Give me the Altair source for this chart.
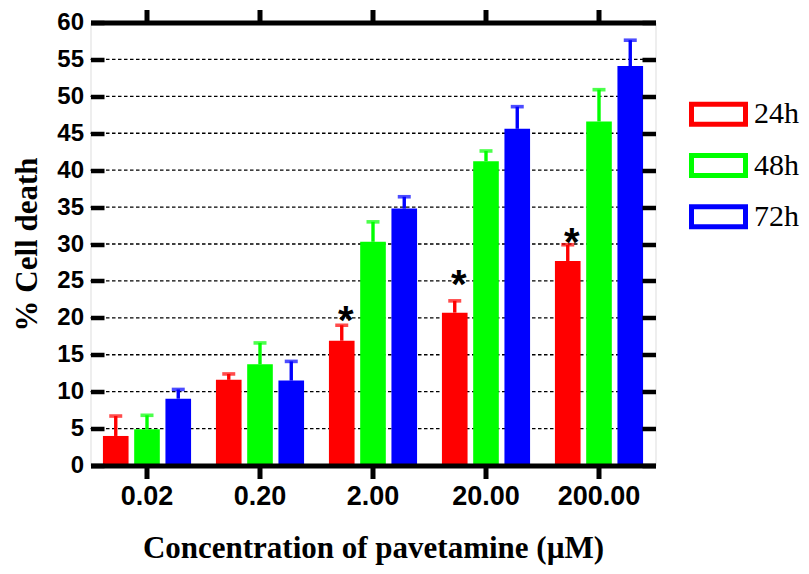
import altair as alt
import pandas as pd

# ---- data ----
concentrations = ["0.02", "0.20", "2.00", "20.00", "200.00"]
times = ["24h", "48h", "72h"]
mean_24h = [4.0, 11.6, 16.9, 20.7, 27.7]
err_24h = [2.7, 0.8, 2.1, 1.6, 2.2]
mean_48h = [4.9, 13.7, 30.3, 41.2, 46.6]
err_48h = [1.9, 2.9, 2.7, 1.4, 4.3]
mean_72h = [9.05, 11.5, 34.8, 45.6, 54.1]
err_72h = [1.25, 2.6, 1.6, 3.0, 3.5]
star_conc = ["2.00", "20.00", "200.00"]
star_time = ["24h", "24h", "24h"]
star_y = [20.8, 25.6, 31.4]
y_ticks = list(range(0, 65, 5))
colors = ["#ff0000", "#00ff00", "#0000ff"]

rows = []
for t, m, e in zip(times, [mean_24h, mean_48h, mean_72h], [err_24h, err_48h, err_72h]):
    for c, mv, ev in zip(concentrations, m, e):
        rows.append({"conc": c, "time": t, "mean": mv, "upper": mv + ev})
df = pd.DataFrame(rows)
stars = pd.DataFrame({"conc": star_conc, "time": star_time, "y": star_y, "s": ["*"] * 3})
grid = pd.DataFrame({"g": y_ticks[1:-1]})

yscale = alt.Scale(domain=[0, 60], nice=False, zero=True)
xscale = alt.Scale(domain=concentrations, paddingInner=0.22, paddingOuter=0.11)
oscale = alt.Scale(domain=times, paddingInner=0.18, paddingOuter=0)
# fill colours: domain taken from the data (keeps it apart from the legend's stroke scale)
cscale = alt.Scale(range=colors)

X_noaxis = alt.X("conc:N", scale=xscale, axis=None)
XO = alt.XOffset("time:N", scale=oscale)
C_noleg = alt.Color("time:N", sort=times, scale=cscale, legend=None)

# gridlines + right axis
grid_layer = alt.Chart(grid).mark_rule(
    color="black", strokeWidth=1.4, strokeDash=[3.5, 2.5]
).encode(
    y=alt.Y("g:Q", scale=yscale, axis=alt.Axis(
        orient="right", values=y_ticks, offset=-13.5, tickSize=13.5, tickWidth=4.5,
        tickColor="black", labels=False, domain=False, grid=False, title=None, zindex=1)),
)

# invisible points carrying the (outlined) legend
legend_layer = alt.Chart(df).mark_point(filled=False, opacity=0).encode(
    x=X_noaxis, xOffset=XO,
    y=alt.Y("mean:Q", scale=yscale, axis=None),
    stroke=alt.Stroke("time:N", scale=alt.Scale(domain=times, range=colors),
                      legend=alt.Legend(
        title=None, orient="none", legendX=612, legendY=75.7, padding=0, offset=0,
        symbolType="M-2,-0.7407H2V0.7407H-2Z", symbolSize=729, symbolStrokeWidth=5,
        symbolFillColor="transparent",
        labelFont="Liberation Serif", labelFontSize=30, labelFontWeight="normal",
        labelColor="black", labelOffset=19.5, labelLimit=200, rowPadding=11.3,
        labelBaseline="middle")),
)

bars = alt.Chart(df).mark_bar().encode(
    x=alt.X("conc:N", scale=xscale, axis=alt.Axis(
        orient="bottom", labelFont="Liberation Sans", labelFontSize=27,
        labelFontWeight="bold", labelColor="black", labelAngle=0, labelPadding=4.5,
        tickSize=13, tickWidth=5, tickColor="black", domain=True, domainWidth=5,
        domainColor="black", grid=False, zindex=1,
        title="Concentration of pavetamine (\u00b5M)", titleFont="Liberation Serif",
        titleFontSize=31, titleFontWeight="bold", titleColor="black",
        titleBaseline="alphabetic", titleY=92)),
    xOffset=XO,
    y=alt.Y("mean:Q", scale=yscale, axis=alt.Axis(
        orient="left", values=y_ticks, format="d", offset=-13.5, tickSize=13.5,
        tickWidth=4.5, tickColor="black", domain=False, grid=False, zindex=1,
        labelFont="Liberation Sans", labelFontSize=24, labelFontWeight="bold",
        labelColor="black", labelPadding=7,
        title="% Cell death", titleFont="Liberation Serif", titleFontSize=31,
        titleFontWeight="bold", titleColor="black", titlePadding=13)),
    color=C_noleg,
)

err = alt.Chart(df).mark_rule(strokeWidth=3.4).encode(
    x=X_noaxis, xOffset=XO,
    y=alt.Y("mean:Q", scale=yscale, axis=None),
    y2="upper:Q",
    color=C_noleg,
)

# caps carry the top axis
caps = alt.Chart(df).mark_tick(thickness=3.6, size=13, orient="horizontal").encode(
    x=alt.X("conc:N", scale=xscale, axis=alt.Axis(
        orient="top", labels=False, tickSize=13, tickWidth=5, tickColor="black",
        domain=True, domainWidth=5, domainColor="black", title=None, grid=False, zindex=1)),
    xOffset=XO,
    y=alt.Y("upper:Q", scale=yscale, axis=None),
    color=C_noleg,
)

star_layer = alt.Chart(stars).mark_text(
    font="Liberation Sans", fontSize=40, fontWeight="bold", color="black",
    baseline="alphabetic", align="center", dy=22, dx=4,
).encode(
    x=X_noaxis, xOffset=XO,
    y=alt.Y("y:Q", scale=yscale, axis=None),
    text="s:N",
)

chart = alt.layer(grid_layer, legend_layer, bars, err, caps, star_layer).properties(
    width=565, height=443,
    autosize="none",
    padding={"left": 82.5, "top": 14.5, "right": 145.5, "bottom": 100.5},
).configure_view(
    stroke="black", strokeWidth=5
).configure(background="white")

chart.save("out.html", embed_options={"renderer": "svg", "actions": False})
